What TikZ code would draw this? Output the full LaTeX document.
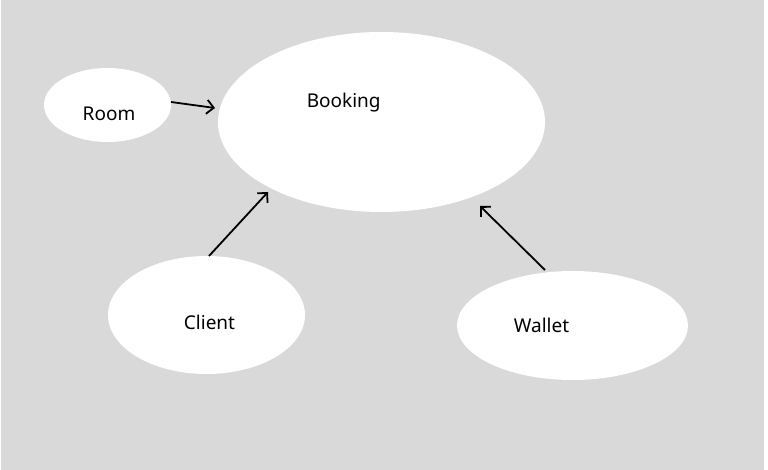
\documentclass[tikz,border=0pt]{standalone}
\usepackage{fontspec}
\setmainfont{Noto Sans}
\usetikzlibrary{arrows.meta}
\definecolor{bg}{HTML}{D9D9D9}
\tikzset{
  lbl/.style={font=\fontsize{19}{22}\selectfont, text=black, inner sep=0pt, anchor=base},
  conn/.style={line width=1.8pt, -{Straight Barb[length=7pt,width=14pt,line width=1.8pt]}},
}
\begin{document}
\begin{tikzpicture}[x=1pt,y=-1pt]
\useasboundingbox (0,0) rectangle (768,470);
\fill[white] (0,0) rectangle (768,470);
\fill[bg] (1,0) rectangle (764,470);
% ellipses
\fill[white] (107.5,105) ellipse [x radius=63.5, y radius=37];
\fill[white] (381.5,122) ellipse [x radius=163.5, y radius=90];
\fill[white] (206.5,315) ellipse [x radius=98.5, y radius=59];
\fill[white] (572.5,325.5) ellipse [x radius=115.5, y radius=54.5];
\node[lbl] (room) at (109,120.5) {Room};
\node[lbl] (booking) at (343.7,108) {Booking};
\node[lbl] (client) at (209.5,329.5) {Client};
\node[lbl] (wallet) at (541.5,332.5) {Wallet};
\coordinate (r1) at (171,102); \coordinate (r2) at (215,108);
\coordinate (c1) at (209,256); \coordinate (c2) at (268,192);
\coordinate (w1) at (545,270); \coordinate (w2) at (480,206);
\draw[conn] (r1) -- (r2);
\draw[conn] (c1) -- (c2);
\draw[conn] (w1) -- (w2);
\end{tikzpicture}
\end{document}
